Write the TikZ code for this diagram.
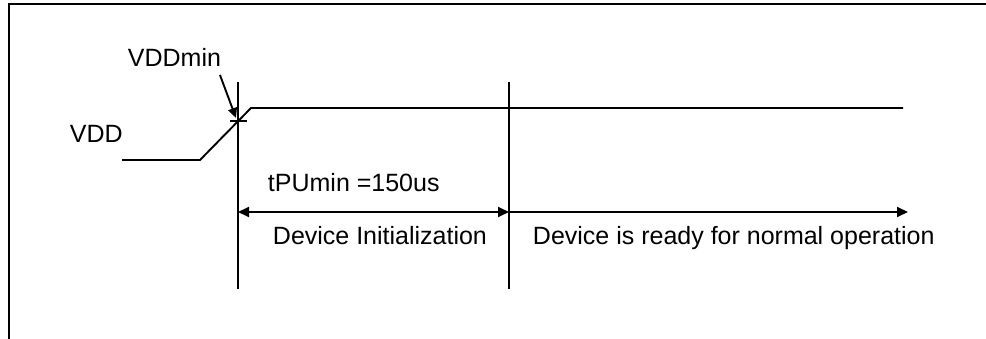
\documentclass[tikz,border=0pt]{standalone}
\usepackage{fontspec}
\setmainfont{Liberation Sans}
\usetikzlibrary{arrows.meta,positioning}
\begin{document}
\begin{tikzpicture}[x=1pt, y=-1pt, line width=1.9pt,
  every node/.style={inner sep=0pt, anchor=base west, font=\fontsize{25}{30}\selectfont},
  >={Triangle[length=11pt,width=10pt]}]
\useasboundingbox (0,0) rectangle (986,339);
\draw (9,339) -- (9,4) -- (986,4);

\coordinate (vlow) at (122,160);
\coordinate (rampa) at (200,160);
\coordinate (rampb) at (251,108);
\coordinate (vhigh) at (903,108);
\coordinate (cross) at (238,121);
\coordinate (t0top) at (238,82);
\coordinate (t0bot) at (238,289);
\coordinate (t1top) at (509,82);
\coordinate (t1bot) at (509,289);
\coordinate (t0) at (238,212);
\coordinate (t1) at (509,212);
\coordinate (tend) at (908,212);

\node (vdd) at (69,143) {VDD};
\node (vddmin) at (127,67) {VDDmin};
\node (tpu) at (267,192) {tPUmin =150us};
\node (init) at (272,245) {Device Initialization};
\node (ready) at (532,245) {Device is ready for normal operation};

\draw (vlow) -- (rampa) -- (rampb) -- (vhigh);
\draw (t0top) -- (t0bot);
\draw (t1top) -- (t1bot);
\draw ([xshift=-8pt]cross) -- ([xshift=9pt]cross);
\draw[-{Triangle[length=10pt,width=9pt]}] ([xshift=-2pt,yshift=-7pt]vddmin.south east) -- ([xshift=-2pt,yshift=3pt]cross);
\draw[<->] (t0) -- (t1);
\draw[->] (t1) -- (tend);
\end{tikzpicture}
\end{document}
